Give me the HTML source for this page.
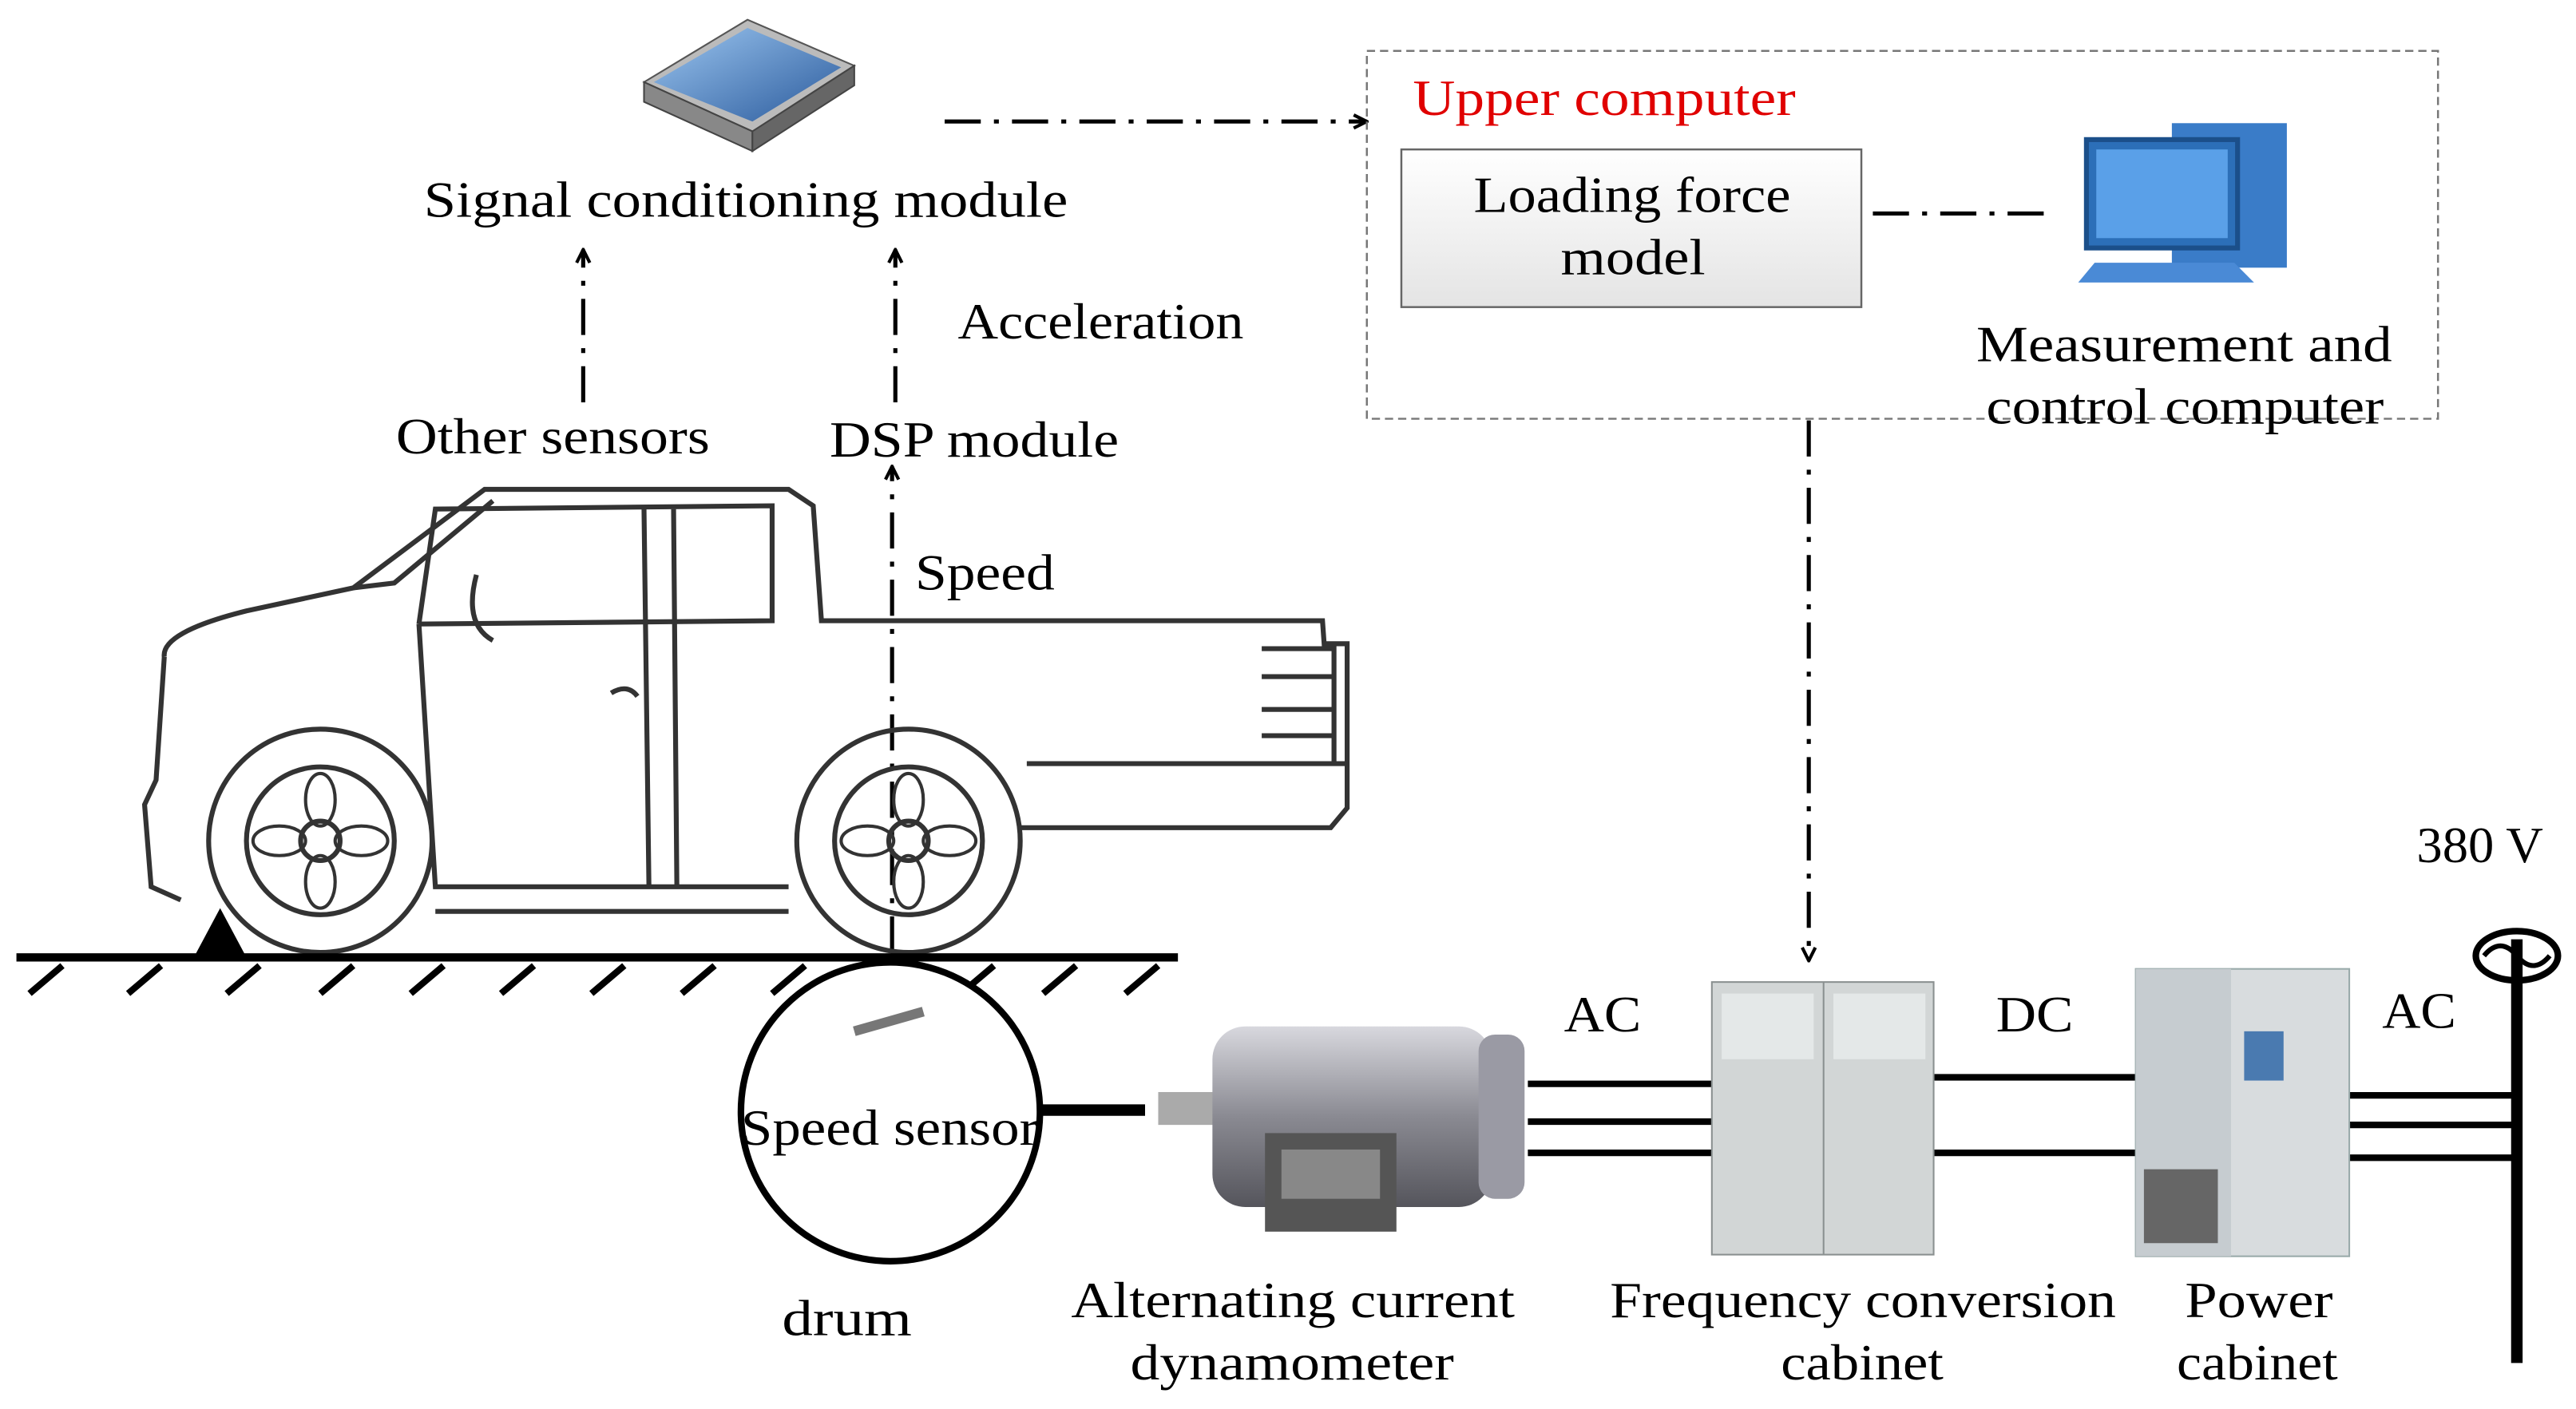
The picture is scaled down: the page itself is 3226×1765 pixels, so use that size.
<!DOCTYPE html>
<html><head><meta charset="utf-8"><style>
html,body{margin:0;padding:0;background:#fff;}
svg{display:block;}
text{font-family:"Liberation Serif",serif;font-size:31px;fill:#000;}
</style></head><body>
<svg width="3226" height="1765" viewBox="0 0 1568 858" preserveAspectRatio="none" xmlns="http://www.w3.org/2000/svg">
<defs>
<marker id="ah" markerWidth="10" markerHeight="10" refX="9" refY="5" orient="auto" markerUnits="userSpaceOnUse"><path d="M1,1 L9,5 L1,9" fill="none" stroke="#000" stroke-width="2"/></marker>
<linearGradient id="bx" x1="0" y1="0" x2="0" y2="1"><stop offset="0" stop-color="#fff"/><stop offset="1" stop-color="#e4e4e4"/></linearGradient>
<linearGradient id="mt" x1="0" y1="0" x2="0" y2="1"><stop offset="0" stop-color="#d8d8de"/><stop offset=".5" stop-color="#8a8a92"/><stop offset="1" stop-color="#55555c"/></linearGradient>
<linearGradient id="blu" x1="0" y1="0" x2="1" y2="1"><stop offset="0" stop-color="#9cc6f0"/><stop offset="1" stop-color="#2a5a9c"/></linearGradient>
</defs>
<polygon points="392,50 455,12 520,40 458,80" fill="#bbb" stroke="#555"/>
<polygon points="398,50 455,17 512,41 458,74" fill="url(#blu)"/>
<polygon points="392,50 458,80 458,92 392,62" fill="#888" stroke="#444"/>
<polygon points="458,80 520,40 520,52 458,92" fill="#666" stroke="#444"/>
<text x="258" y="132" textLength="392" lengthAdjust="spacingAndGlyphs">Signal conditioning module</text>
<line x1="575" y1="74" x2="832" y2="74" stroke="#000" stroke-width="2.5" stroke-dasharray="22,8,3,8" marker-end="url(#ah)"/>
<rect x="832" y="31" width="652" height="224" fill="none" stroke="#777" stroke-width="1.2" stroke-dasharray="5,3"/>
<text x="860" y="70" textLength="233" lengthAdjust="spacingAndGlyphs" style="fill:#e00000">Upper computer</text>
<rect x="853" y="91" width="280" height="96" fill="url(#bx)" stroke="#666" stroke-width="1.2"/>
<text x="897" y="129" textLength="193" lengthAdjust="spacingAndGlyphs">Loading force</text>
<text x="950" y="167" textLength="88" lengthAdjust="spacingAndGlyphs">model</text>
<line x1="1140" y1="130" x2="1252" y2="130" stroke="#000" stroke-width="2.5" stroke-dasharray="22,8,3,8"/>
<rect x="1322" y="75" width="70" height="88" fill="#3a7cc8"/>
<rect x="1270" y="85" width="92" height="66" fill="#2c6fb8" stroke="#1b4f8a" stroke-width="3"/>
<rect x="1276" y="91" width="80" height="54" fill="#5aa0e8"/>
<polygon points="1275,160 1360,160 1372,172 1265,172" fill="#4a8ad6"/>
<text x="1203" y="220" textLength="253" lengthAdjust="spacingAndGlyphs">Measurement and</text>
<text x="1209" y="258" textLength="242" lengthAdjust="spacingAndGlyphs">control computer</text>
<line x1="1101" y1="256" x2="1101" y2="585" stroke="#000" stroke-width="2.5" stroke-dasharray="22,8,3,8" marker-end="url(#ah)"/>
<line x1="355" y1="245" x2="355" y2="152" stroke="#000" stroke-width="2.5" stroke-dasharray="22,8,3,8" marker-end="url(#ah)"/>
<line x1="545" y1="245" x2="545" y2="152" stroke="#000" stroke-width="2.5" stroke-dasharray="22,8,3,8" marker-end="url(#ah)"/>
<text x="583" y="206" textLength="174" lengthAdjust="spacingAndGlyphs">Acceleration</text>
<text x="241" y="276" textLength="191" lengthAdjust="spacingAndGlyphs">Other sensors</text>
<text x="505" y="278" textLength="176" lengthAdjust="spacingAndGlyphs">DSP module</text>
<line x1="543" y1="580" x2="543" y2="284" stroke="#000" stroke-width="2.5" stroke-dasharray="22,8,3,8" marker-end="url(#ah)"/>
<text x="557" y="359" textLength="85" lengthAdjust="spacingAndGlyphs">Speed</text>
<g fill="none" stroke="#333" stroke-width="3">
<path d="M100,400 Q98,385 150,372 L215,358 L295,298 L480,298 L495,308 L500,378 L805,378 L806,392 L820,392 L820,492 L810,504 L620,504"/>
<path d="M215,358 L240,355 L300,305"/>
<path d="M255,380 L265,310 L470,308 L470,378 L255,380"/>
<path d="M392,310 L395,540 M410,310 L412,540"/>
<path d="M255,380 L265,540 L480,540"/>
<path d="M100,400 L95,475 L88,490 L92,540 L110,548"/>
<path d="M625,465 L820,465 M768,395 L812,395 L812,465 M768,412 L812,412 M768,432 L812,432 M768,448 L812,448"/>
<path d="M265,555 L480,555"/>
<path d="M372,422 Q382,416 388,424"/>
<path d="M290,350 Q282,380 300,390"/>
</g>
<g fill="none" stroke="#333" stroke-width="3">
<circle cx="195" cy="512" r="68"/><circle cx="195" cy="512" r="45"/><circle cx="195" cy="512" r="12"/>
<circle cx="553" cy="512" r="68"/><circle cx="553" cy="512" r="45"/><circle cx="553" cy="512" r="12"/>
</g>
<g fill="none" stroke="#333" stroke-width="2">
<ellipse cx="195" cy="487" rx="9" ry="16"/><ellipse cx="195" cy="537" rx="9" ry="16"/><ellipse cx="170" cy="512" rx="16" ry="9"/><ellipse cx="220" cy="512" rx="16" ry="9"/>
<ellipse cx="553" cy="487" rx="9" ry="16"/><ellipse cx="553" cy="537" rx="9" ry="16"/><ellipse cx="528" cy="512" rx="16" ry="9"/><ellipse cx="578" cy="512" rx="16" ry="9"/>
</g>
<line x1="10" y1="583" x2="717" y2="583" stroke="#000" stroke-width="5"/>
<g stroke="#000" stroke-width="4">
<line x1="38" y1="588" x2="18" y2="605"/><line x1="98" y1="588" x2="78" y2="605"/><line x1="158" y1="588" x2="138" y2="605"/><line x1="215" y1="588" x2="195" y2="605"/><line x1="270" y1="588" x2="250" y2="605"/><line x1="325" y1="588" x2="305" y2="605"/><line x1="380" y1="588" x2="360" y2="605"/><line x1="435" y1="588" x2="415" y2="605"/><line x1="490" y1="588" x2="470" y2="605"/><line x1="605" y1="588" x2="585" y2="605"/><line x1="655" y1="588" x2="635" y2="605"/><line x1="705" y1="588" x2="685" y2="605"/>
</g>
<polygon points="118,583 134,553 150,583" fill="#000"/>
<circle cx="542" cy="677" r="91" fill="#fff" stroke="#000" stroke-width="4"/>
<line x1="520" y1="628" x2="562" y2="616" stroke="#777" stroke-width="6"/>
<text x="451" y="697" textLength="181" lengthAdjust="spacingAndGlyphs">Speed sensor</text>
<text x="476" y="813" textLength="79" lengthAdjust="spacingAndGlyphs">drum</text>
<line x1="632" y1="676" x2="697" y2="676" stroke="#000" stroke-width="7"/>
<rect x="705" y="665" width="40" height="20" fill="#aaa"/>
<rect x="738" y="625" width="170" height="110" rx="20" fill="url(#mt)"/>
<rect x="900" y="630" width="28" height="100" rx="10" fill="#9a9aa4"/>
<rect x="770" y="690" width="80" height="60" fill="#555"/>
<rect x="780" y="700" width="60" height="30" fill="#888"/>
<text x="652" y="802" textLength="270" lengthAdjust="spacingAndGlyphs">Alternating current</text>
<text x="688" y="840" textLength="197" lengthAdjust="spacingAndGlyphs">dynamometer</text>
<g stroke="#000" stroke-width="4">
<line x1="930" y1="660" x2="1053" y2="660"/><line x1="930" y1="683" x2="1053" y2="683"/><line x1="930" y1="702" x2="1053" y2="702"/>
<line x1="1177" y1="656" x2="1302" y2="656"/><line x1="1177" y1="702" x2="1302" y2="702"/>
<line x1="1422" y1="667" x2="1535" y2="667"/><line x1="1422" y1="685" x2="1535" y2="685"/><line x1="1422" y1="705" x2="1535" y2="705"/>
</g>
<text x="952" y="628" textLength="47" lengthAdjust="spacingAndGlyphs">AC</text>
<text x="1215" y="628" textLength="47" lengthAdjust="spacingAndGlyphs">DC</text>
<text x="1450" y="626" textLength="45" lengthAdjust="spacingAndGlyphs">AC</text>
<rect x="1042" y="598" width="135" height="166" fill="#d2d6d6" stroke="#8a9090"/>
<line x1="1110" y1="598" x2="1110" y2="764" stroke="#8a9090"/>
<rect x="1048" y="605" width="56" height="40" fill="#e4e8e8"/><rect x="1116" y="605" width="56" height="40" fill="#e4e8e8"/>
<text x="980" y="802" textLength="308" lengthAdjust="spacingAndGlyphs">Frequency conversion</text>
<text x="1084" y="840" textLength="99" lengthAdjust="spacingAndGlyphs">cabinet</text>
<rect x="1300" y="590" width="130" height="175" fill="#d8dcde" stroke="#9aa"/>
<rect x="1300" y="590" width="58" height="175" fill="#c6ccd0"/>
<rect x="1366" y="628" width="24" height="30" fill="#4a7ab0"/>
<rect x="1305" y="712" width="45" height="45" fill="#666"/>
<text x="1330" y="802" textLength="90" lengthAdjust="spacingAndGlyphs">Power</text>
<text x="1325" y="840" textLength="98" lengthAdjust="spacingAndGlyphs">cabinet</text>
<line x1="1532" y1="572" x2="1532" y2="830" stroke="#000" stroke-width="7"/>
<ellipse cx="1532" cy="582" rx="25" ry="15" fill="none" stroke="#000" stroke-width="4"/>
<path d="M1512,582 Q1522,570 1532,582 Q1542,594 1552,582" fill="none" stroke="#000" stroke-width="3"/>
<text x="1471" y="525" textLength="77" lengthAdjust="spacingAndGlyphs">380 V</text>
</svg>
</body></html>
